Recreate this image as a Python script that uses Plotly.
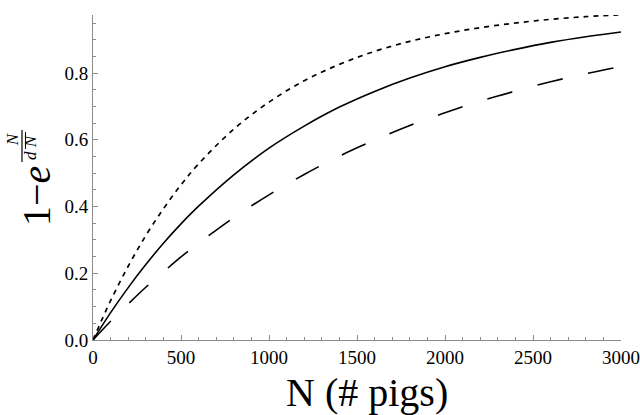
import plotly.graph_objects as go

# Values
n_pigs = [0, 100, 200, 300, 400, 500, 600, 800, 1000, 1200, 1400, 1600, 1800,
          2000, 2200, 2400, 2600, 2800, 3000]
solid_vals = [0.0, 0.082, 0.157, 0.226, 0.290, 0.348, 0.401, 0.495, 0.575, 0.641,
              0.698, 0.745, 0.785, 0.819, 0.847, 0.871, 0.892, 0.909, 0.923]
dotted_vals = [0.0, 0.118, 0.221, 0.313, 0.393, 0.465, 0.528, 0.632, 0.713, 0.777,
               0.826, 0.865, 0.895, 0.918, 0.936, 0.950, 0.961, 0.969, 0.975]
dashed_vals = [0.0, 0.056, 0.108, 0.158, 0.204, 0.249, 0.290, 0.367, 0.435, 0.496,
               0.551, 0.599, 0.643, 0.681, 0.716, 0.746, 0.774, 0.798, 0.820]

x_ticks = [0, 500, 1000, 1500, 2000, 2500, 3000]
y_ticks = [0.0, 0.2, 0.4, 0.6, 0.8]
y_tick_labels = ["0.0", "0.2", "0.4", "0.6", "0.8"]

SERIF = "Liberation Serif, Times New Roman, serif"
AXC = "#8c8c8c"

fig = go.Figure()
fig.add_trace(go.Scatter(x=n_pigs, y=dotted_vals, mode="lines", line_shape="spline",
                         line=dict(color="black", width=1.7, dash="5px,5px")))
fig.add_trace(go.Scatter(x=n_pigs, y=solid_vals, mode="lines", line_shape="spline",
                         line=dict(color="black", width=1.6)))
fig.add_trace(go.Scatter(x=n_pigs, y=dashed_vals, mode="lines", line_shape="spline",
                         line=dict(color="black", width=1.6, dash="26px,26px")))

fig.update_layout(
    width=640, height=415,
    margin=dict(l=93, r=19, t=15, b=75),
    paper_bgcolor="white", plot_bgcolor="white",
    showlegend=False,
    font=dict(family=SERIF, color="black", size=18),
    xaxis=dict(range=[0, 3000], tickvals=x_ticks, ticks="inside", ticklen=5,
               tickcolor=AXC, showline=True, linecolor=AXC, linewidth=1,
               showgrid=False, zeroline=False, automargin=False,
               tickfont=dict(family=SERIF, size=19, color="black"),
               minor=dict(dtick=100, ticks="inside", ticklen=3, tickcolor=AXC)),
    yaxis=dict(range=[0, 0.974], tickvals=y_ticks, ticktext=y_tick_labels,
               ticks="inside", ticklen=5, tickcolor=AXC, showline=True,
               linecolor=AXC, linewidth=1, showgrid=False, zeroline=False,
               automargin=False,
               tickfont=dict(family=SERIF, size=19, color="black"),
               minor=dict(dtick=0.05, ticks="inside", ticklen=3, tickcolor=AXC)),
)

# x-axis title
fig.add_annotation(text="N (# pigs)", xref="paper", yref="paper", x=0.519, y=-0.16,
                   xanchor="center", yanchor="middle", showarrow=False,
                   font=dict(family=SERIF, size=40, color="black"))

# y-axis title: 1 - e^(N / (d N-bar)), built from rotated pieces
fig.add_annotation(text="1\u2212<i>e</i>", xref="paper", yref="paper", x=-0.108, y=0.443,
                   xanchor="center", yanchor="middle", showarrow=False, textangle=-90,
                   font=dict(family=SERIF, size=40, color="black"))
fig.add_annotation(text="<i>N</i>", xref="paper", yref="paper", x=-0.1534, y=0.618,
                   xanchor="center", yanchor="middle", showarrow=False, textangle=-90,
                   font=dict(family=SERIF, size=17, color="black"))
fig.add_annotation(text="<i>d N</i>", xref="paper", yref="paper", x=-0.1174, y=0.594,
                   xanchor="center", yanchor="middle", showarrow=False, textangle=-90,
                   font=dict(family=SERIF, size=17, color="black"))
fig.add_shape(type="line", xref="paper", yref="paper", x0=-0.1345, x1=-0.1345,
              y0=0.548, y1=0.646, line=dict(color="black", width=1.2))
fig.add_shape(type="line", xref="paper", yref="paper", x0=-0.1278, x1=-0.1278,
              y0=0.588, y1=0.640, line=dict(color="black", width=1))

fig.write_html("out.html", config={"displayModeBar": False},
               post_script="document.body.style.margin='0px';document.body.style.overflow='hidden';")
